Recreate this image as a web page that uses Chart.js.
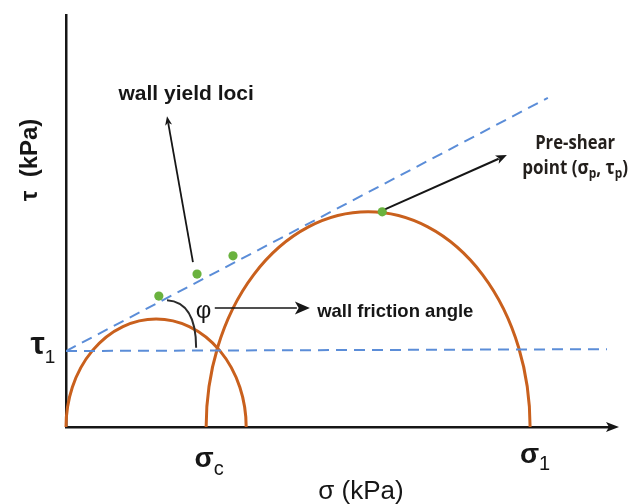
<!DOCTYPE html>
<html>
<head>
<meta charset="utf-8">
<script src="https://cdn.jsdelivr.net/npm/chart.js@4.4.1/dist/chart.umd.min.js"></script>
<style>
  html, body { margin: 0; padding: 0; background: #fff; }
  #wrap { width: 629px; height: 504px; }
</style>
</head>
<body>
<div id="wrap"><canvas id="chart" width="629" height="504"></canvas></div>
<script>
// Wall yield locus test: normal stress σ (kPa) vs shear stress τ (kPa)
const tau1 = 1.66;                      // τ at σ = 0 (wall adhesion)
const lociSigma = [0, 10.59];           // wall yield locus
const lociTau = [1.66, 7.19];
const baseSigma = [0, 11.89];           // τ1 reference line
const baseTau = [1.66, 1.70];
const wallSigma = [2.04, 2.88, 3.67];   // measured wall shear points
const wallTau = [2.86, 3.34, 3.74];
const preSigma = [6.95];                // pre-shear point (σp, τp)
const preTau = [4.70];
// Mohr semicircles: σ range and peak τ
const circleSigmaLo = [0, 3.08];
const circleSigmaHi = [3.96, 10.20];
const circleTauTop = [2.36, 4.70];
const sigmaC = 3.08;
const sigma1 = 10.20;

const ORANGE = '#c9601d';
const BLUE = '#5b8dd8';
const GREEN = '#6ab23e';
const INK = '#161616';

// annotation anchors, in (σ, τ)
const notes = {
  lociArrow: { from: [2.79, 3.60], to: [2.22, 6.79] },
  preArrow:  { from: [7.02, 4.76], to: [9.69, 5.94] },
  phiArrow:  { from: [3.27, 2.60], to: [5.36, 2.60] },
  phiArc:    { start: [2.22, 2.77], ctrl: [2.86, 2.73], end: [2.86, 1.73] },
  phiLabel:  [3.02, 2.60],
  lociLabel: [2.64, 7.16],
  frictionLabel: [5.52, 2.40],
  preLabel:  [11.19, 6.05]
};

function arrow(ctx, x1, y1, x2, y2, len, half, lw) {
  const a = Math.atan2(y2 - y1, x2 - x1);
  const bx = x2 - len * Math.cos(a), by = y2 - len * Math.sin(a);
  ctx.save();
  ctx.strokeStyle = INK; ctx.fillStyle = INK; ctx.lineWidth = lw;
  ctx.beginPath(); ctx.moveTo(x1, y1); ctx.lineTo(bx + 2 * Math.cos(a), by + 2 * Math.sin(a)); ctx.stroke();
  ctx.beginPath();
  ctx.moveTo(x2, y2);
  ctx.lineTo(bx - half * Math.sin(a), by + half * Math.cos(a));
  ctx.lineTo(x2 - len * 0.75 * Math.cos(a), y2 - len * 0.75 * Math.sin(a));
  ctx.lineTo(bx + half * Math.sin(a), by - half * Math.cos(a));
  ctx.closePath(); ctx.fill();
  ctx.restore();
}

// runs of text with optional subscripts, centred at x
function runs(ctx, x, y, parts, align) {
  let w = 0;
  parts.forEach(p => { ctx.font = p.font; p.w = ctx.measureText(p.t).width; w += p.w; });
  let cx = align === 'left' ? x : x - w / 2;
  ctx.textAlign = 'left';
  parts.forEach(p => { ctx.font = p.font; ctx.fillText(p.t, cx, y + (p.dy || 0)); cx += p.w; });
}

// condensed text: squeeze horizontally to a given width
function fitText(ctx, text, x, y, font, width) {
  ctx.save();
  ctx.font = font;
  const w = ctx.measureText(text).width;
  const k = Math.min(1, width / w);
  ctx.translate(x, y);
  ctx.scale(k, 1);
  ctx.textAlign = 'center';
  ctx.fillText(text, 0, 0);
  ctx.restore();
}

const mohrCircles = {
  id: 'mohrCircles',
  beforeDatasetsDraw(chart) {
    const { ctx, scales: { x, y } } = chart;
    ctx.save();
    ctx.strokeStyle = ORANGE; ctx.lineWidth = 3;
    for (let i = 0; i < circleSigmaLo.length; i++) {
      const l = x.getPixelForValue(circleSigmaLo[i]);
      const r = x.getPixelForValue(circleSigmaHi[i]);
      const b = y.getPixelForValue(0);
      const t = y.getPixelForValue(circleTauTop[i]);
      ctx.beginPath();
      ctx.ellipse((l + r) / 2, b, (r - l) / 2, b - t, 0, Math.PI, 2 * Math.PI);
      ctx.stroke();
    }
    ctx.restore();
  }
};

const annotations = {
  id: 'annotations',
  afterDraw(chart) {
    const { ctx, chartArea: ca, scales: { x, y } } = chart;
    const P = v => [x.getPixelForValue(v[0]), y.getPixelForValue(v[1])];

    // arrowhead on σ axis
    ctx.save();
    ctx.fillStyle = INK;
    ctx.beginPath();
    ctx.moveTo(ca.right + 7, ca.bottom);
    ctx.lineTo(ca.right - 6, ca.bottom - 5);
    ctx.lineTo(ca.right - 3, ca.bottom);
    ctx.lineTo(ca.right - 6, ca.bottom + 5);
    ctx.closePath(); ctx.fill();
    ctx.restore();

    // arrows
    let a = P(notes.lociArrow.from), b = P(notes.lociArrow.to);
    arrow(ctx, a[0], a[1], b[0], b[1], 9, 3.5, 1.8);
    a = P(notes.preArrow.from); b = P(notes.preArrow.to);
    arrow(ctx, a[0], a[1], b[0], b[1], 11, 4.5, 2);
    a = P(notes.phiArrow.from); b = P(notes.phiArrow.to);
    arrow(ctx, a[0], a[1], b[0], b[1], 15, 6.5, 1.3);

    // friction angle arc
    const s = P(notes.phiArc.start), c = P(notes.phiArc.ctrl), e = P(notes.phiArc.end);
    ctx.save();
    ctx.strokeStyle = '#2b2b2b'; ctx.lineWidth = 2;
    ctx.beginPath(); ctx.moveTo(s[0], s[1]); ctx.quadraticCurveTo(c[0], c[1], e[0], e[1]); ctx.stroke();
    ctx.restore();

    ctx.save();
    ctx.fillStyle = INK;
    ctx.textBaseline = 'alphabetic';

    let p = P(notes.phiLabel);
    ctx.font = '24px "Liberation Sans"'; ctx.textAlign = 'center';
    ctx.fillText('φ', p[0], p[1] + 10);

    p = P(notes.lociLabel);
    ctx.font = 'bold 21px "Liberation Sans"'; ctx.textAlign = 'center';
    ctx.fillText('wall yield loci', p[0], p[1] + 1);

    p = P(notes.frictionLabel);
    ctx.font = 'bold 18.5px "Liberation Sans"'; ctx.textAlign = 'left';
    ctx.fillText('wall friction angle', p[0], p[1]);

    p = P(notes.preLabel);
    ctx.fillStyle = '#231f1c';
    fitText(ctx, 'Pre-shear', p[0], p[1] - 1, 'bold 20px "Open Sans"', 80);
    ctx.save();
    const parts = [
      { t: 'point (σ', font: 'bold 20px "Open Sans"' },
      { t: 'p', font: 'bold 14px "Open Sans"', dy: 4 },
      { t: ', τ', font: 'bold 20px "Open Sans"' },
      { t: 'p', font: 'bold 14px "Open Sans"', dy: 4 },
      { t: ')', font: 'bold 20px "Open Sans"' }
    ];
    let tw = 0;
    parts.forEach(q => { ctx.font = q.font; tw += ctx.measureText(q.t).width; });
    const k = Math.min(1, 106 / tw);
    ctx.translate(p[0], p[1] + 24);
    ctx.scale(k, 1);
    runs(ctx, 0, 0, parts, 'center');
    ctx.restore();

    ctx.fillStyle = INK;
    // axis titles
    ctx.save();
    ctx.translate(ca.left - 37, 160);
    ctx.rotate(-Math.PI / 2);
    ctx.font = 'bold 24px "Liberation Sans"'; ctx.textAlign = 'center';
    ctx.fillText('τ  (kPa)', 0, 8);
    ctx.restore();

    ctx.font = '26px "Liberation Sans"'; ctx.textAlign = 'center';
    ctx.fillText('σ (kPa)', 361, 499);

    // τ1, σc, σ1
    const ty = y.getPixelForValue(tau1);
    runs(ctx, 43, ty + 3, [
      { t: 'τ', font: 'bold 32px "Liberation Sans"' },
      { t: '1', font: '19px "Liberation Sans"', dy: 9 }
    ], 'center');
    runs(ctx, x.getPixelForValue(sigmaC) + 3, 467, [
      { t: 'σ', font: 'bold 28px "Liberation Sans"' },
      { t: 'c', font: '20px "Liberation Sans"', dy: 8 }
    ], 'center');
    runs(ctx, x.getPixelForValue(sigma1) + 5, 463, [
      { t: 'σ', font: 'bold 28px "Liberation Sans"' },
      { t: '1', font: '20px "Liberation Sans"', dy: 7 }
    ], 'center');
    ctx.restore();
  }
};

const pts = (xs, ys) => xs.map((v, i) => ({ x: v, y: ys[i] }));

new Chart(document.getElementById('chart'), {
  type: 'scatter',
  data: {
    datasets: [
      { label: 'wall points', data: pts(wallSigma, wallTau), backgroundColor: GREEN, borderWidth: 0, pointRadius: 4.6 },
      { label: 'pre-shear', data: pts(preSigma, preTau), backgroundColor: GREEN, borderWidth: 0, pointRadius: 4.6 },
      { label: 'wall yield locus', data: pts(lociSigma, lociTau), showLine: true, borderColor: BLUE, borderWidth: 2, borderDash: [11, 7], pointRadius: 0 },
      { label: 'τ1', data: pts(baseSigma, baseTau), showLine: true, borderColor: BLUE, borderWidth: 2, borderDash: [11, 7], pointRadius: 0 }
    ]
  },
  options: {
    responsive: false,
    animation: false,
    layout: { padding: { left: 66, top: 15, right: 17, bottom: 77 } },
    plugins: { legend: { display: false }, tooltip: { enabled: false } },
    scales: {
      x: {
        type: 'linear', min: 0, max: 12,
        ticks: { display: false }, grid: { display: false, drawTicks: false },
        border: { display: true, color: INK, width: 2.5 },
        afterFit: s => { s.height = 0; }
      },
      y: {
        type: 'linear', min: 0, max: 9,
        ticks: { display: false }, grid: { display: false, drawTicks: false },
        border: { display: true, color: INK, width: 2.5 },
        afterFit: s => { s.width = 0; }
      }
    }
  },
  plugins: [mohrCircles, annotations]
});
</script>
</body>
</html>
